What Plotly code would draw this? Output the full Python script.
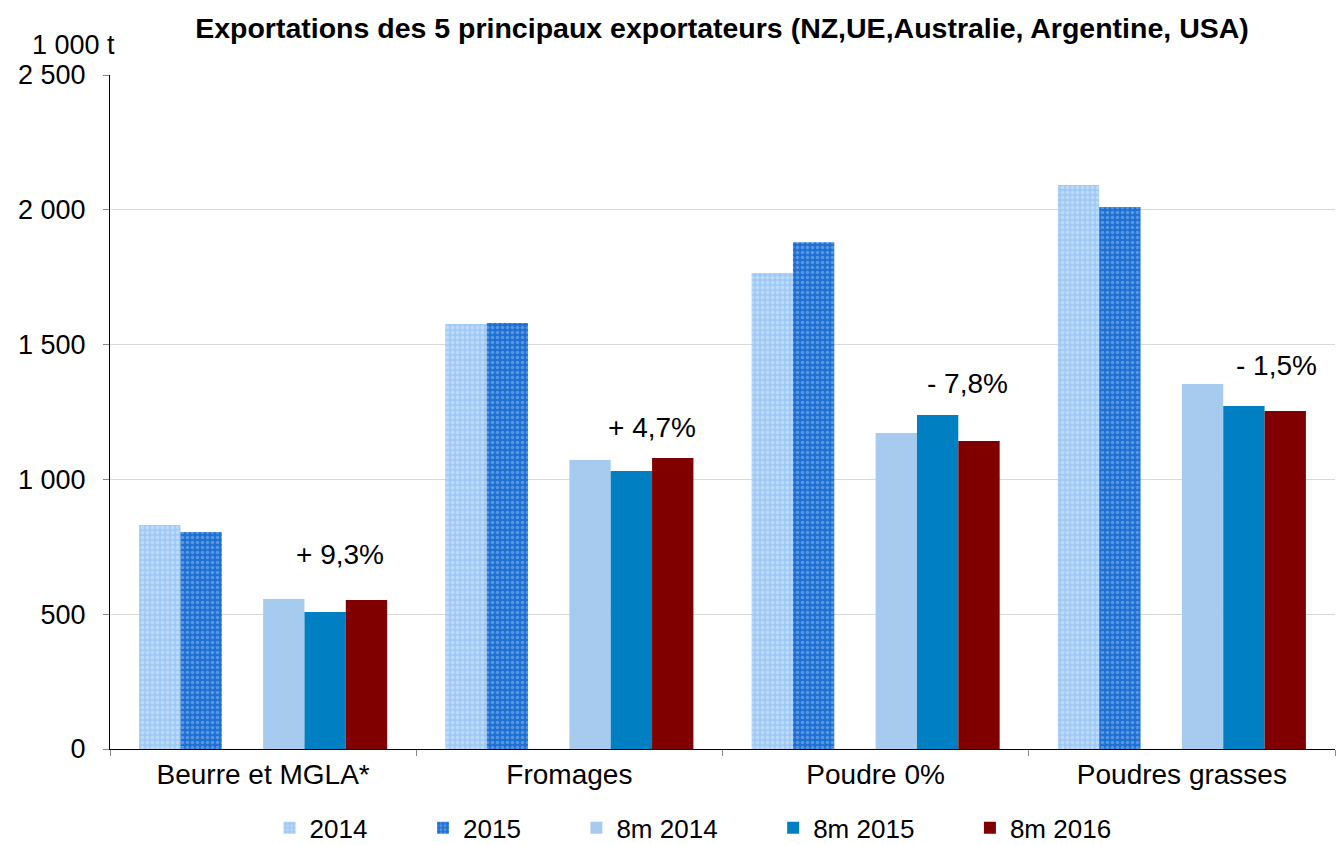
import plotly.graph_objects as go

categories = ["Beurre et MGLA*", "Fromages", "Poudre 0%", "Poudres grasses"]
v2014 = [831, 1576, 1766, 2092]
v2015 = [805, 1580, 1880, 2010]
v8m2014 = [556, 1072, 1172, 1354]
v8m2015 = [508, 1031, 1239, 1272]
v8m2016 = [553, 1079, 1142, 1254]
labels = ["+ 9,3%", "+ 4,7%", "- 7,8%", "- 1,5%"]
label_y = [720, 1194, 1357, 1424]
yticks = [0, 500, 1000, 1500, 2000, 2500]
yticktext = ["0", "500", "1 000", "1 500", "2 000", "2 500"]

FONT = "Liberation Sans, Arial, sans-serif"
PAD = "\u00a0" * 7

fig = go.Figure()
fig.add_bar(name="2014" + PAD, x=categories, y=v2014,
            marker=dict(color="#9EC8F5", line=dict(width=0),
                        pattern=dict(shape=".", fgcolor="#D8EAFB", bgcolor="#9EC8F5", size=5, solidity=0.45)))
fig.add_bar(name="2015" + PAD, x=categories, y=v2015,
            marker=dict(color="#1E6FD2", line=dict(width=0),
                        pattern=dict(shape=".", fgcolor="#8FC0F2", bgcolor="#1E6FD2", size=5, solidity=0.4)))
fig.add_bar(name="", x=categories, y=[0, 0, 0, 0], showlegend=False,
            marker=dict(color="rgba(0,0,0,0)"), hoverinfo="skip")
fig.add_bar(name="8m 2014" + PAD, x=categories, y=v8m2014, marker=dict(color="#A7CAEF", line=dict(width=0)))
fig.add_bar(name="8m 2015" + PAD, x=categories, y=v8m2015, marker=dict(color="#0080C3", line=dict(width=0)))
fig.add_bar(name="8m 2016", x=categories, y=v8m2016, marker=dict(color="#800000", line=dict(width=0)))

shifts = [77, 83, 92, 95]
for c, t, yv, s in zip(categories, labels, label_y, shifts):
    fig.add_annotation(x=c, y=yv, text=t, showarrow=False, xshift=s,
                       font=dict(size=28, color="#000000", family=FONT))

fig.add_annotation(x=0, xref="paper", xanchor="center", xshift=-37, y=2500, yref="y", yshift=30,
                   text="1 000 t", showarrow=False, font=dict(size=27, color="#000", family=FONT))

fig.update_layout(
    width=1337, height=845,
    margin=dict(l=110, r=2, t=75, b=96, autoexpand=False),
    paper_bgcolor="white", plot_bgcolor="white",
    barmode="group", bargap=0.19, bargroupgap=0,
    font=dict(family=FONT, color="#000", size=27),
    title=dict(text="<b>Exportations des 5 principaux exportateurs (NZ,UE,Australie, Argentine, USA)</b>",
               x=0.54, xanchor="center", y=0.967, yanchor="middle",
               font=dict(size=28.5, family=FONT, color="#000")),
    legend=dict(orientation="h", x=0.476, xanchor="center", y=-0.082, yanchor="top",
                font=dict(size=26, family=FONT), itemwidth=30, tracegroupgap=0),
    showlegend=True,
)
fig.update_xaxes(showline=True, linecolor="#000", linewidth=1, ticks="outside", tickson="boundaries",
                 ticklen=6, tickcolor="#888", tickfont=dict(size=28, family=FONT), showgrid=False,
                 automargin=False)
fig.update_yaxes(range=[0, 2500], tickvals=yticks, ticktext=yticktext, showline=True, linecolor="#000",
                 linewidth=1, ticks="outside", ticklen=6, tickcolor="#888", showgrid=True,
                 gridcolor="#D9D9D9", gridwidth=1, tickfont=dict(size=27, family=FONT), zeroline=False,
                 automargin=False, ticklabelstandoff=12)

fig.write_html("out.html", config={"displayModeBar": False},
               post_script="document.body.style.margin='0';")
